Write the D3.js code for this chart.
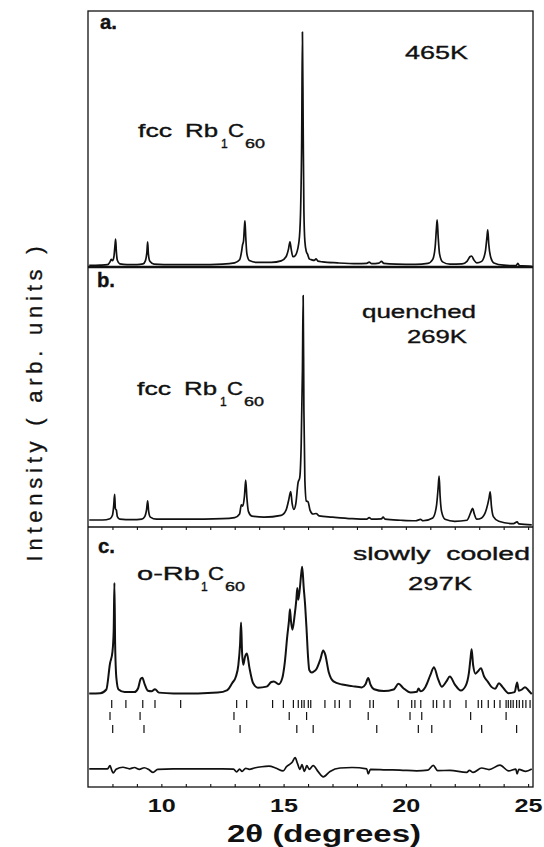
<!DOCTYPE html>
<html>
<head>
<meta charset="utf-8">
<script src="https://cdn.jsdelivr.net/npm/d3@7"></script>
<style>
  body { margin: 0; background: #fff; }
  text { font-family: "Liberation Sans", Arial, sans-serif; fill: #111; white-space: pre; }
</style>
</head>
<body>
<script>
// 2theta range and tick labels
var xDomain = [7.0, 25.2];
var tickLabels = [10, 15, 20, 25];
var minorTicks = d3.range(8, 26);

// panel a: fcc Rb1C60 at 465K  [2theta, intensity]
var traceA = [[7.05,0.6],[7.5,0.7],[7.8,0.9],[7.9,2.0],[7.95,3.0],[8.0,2.5],[8.06,4],[8.1,8],[8.13,10.9],[8.16,6],[8.2,2.6],[8.3,1.2],[8.6,0.9],[9.0,0.9],[9.25,1.2],[9.35,2.5],[9.41,6],[9.44,9.8],[9.47,5],[9.53,2.2],[9.7,1.1],[10.5,0.9],[11.5,0.9],[12.5,1.1],[13.0,1.6],[13.2,2.8],[13.28,6],[13.32,8.6],[13.36,10],[13.4,16],[13.42,18],[13.45,12],[13.5,5],[13.6,2.5],[13.9,1.8],[14.5,1.8],[14.9,2.4],[15.1,4],[15.2,7],[15.26,9.8],[15.31,7],[15.38,4],[15.45,4.2],[15.55,6],[15.65,12],[15.7,24],[15.74,50],[15.77,91.8],[15.8,55],[15.83,22],[15.87,10],[15.93,6],[15.98,5],[16.05,3.2],[16.15,2.8],[16.25,2.6],[16.33,3.2],[16.4,2.3],[16.6,2.0],[17.2,1.6],[18.0,1.3],[18.4,1.4],[18.5,1.9],[18.6,1.3],[18.9,1.5],[19.0,2.2],[19.1,1.4],[19.6,1.1],[20.4,1.0],[20.9,1.4],[21.1,3],[21.2,8],[21.25,15],[21.28,18.4],[21.32,12],[21.38,5],[21.5,2],[21.8,1.1],[22.3,1.2],[22.5,2.2],[22.62,4],[22.69,4.3],[22.78,2.8],[22.9,1.6],[23.1,2.2],[23.25,6],[23.32,12],[23.35,14.5],[23.39,9],[23.48,3.5],[23.6,1.6],[24.0,0.7],[24.5,0.5],[24.58,1.4],[24.65,0.5],[25.15,0.3]];

// panel b: quenched, 269K
var traceB = [[7.05,2.7],[7.6,2.7],[7.9,3.2],[8.0,4.5],[8.05,8],[8.09,12.6],[8.12,7],[8.16,6.5],[8.2,4],[8.3,3],[8.8,2.8],[9.2,3],[9.32,4],[9.4,7],[9.44,10.1],[9.48,6],[9.55,3.8],[9.8,3],[11,3],[12.5,3.2],[13.0,3.6],[13.2,5],[13.27,8.5],[13.33,8],[13.4,12],[13.45,18],[13.5,11],[13.56,6],[13.7,4.2],[14.2,3.8],[14.9,4.5],[15.1,6.5],[15.2,10],[15.29,13.6],[15.35,9],[15.42,6.8],[15.5,9],[15.59,17],[15.66,19],[15.72,32],[15.77,60],[15.8,89],[15.83,45],[15.87,18],[15.93,10],[16.0,9.7],[16.08,6.5],[16.2,5],[16.33,5.2],[16.45,4.3],[17,3.8],[17.8,3.2],[18.4,3],[18.5,3.6],[18.6,3],[19.0,3.1],[19.07,3.8],[19.15,3],[19.8,2.6],[20.4,2.4],[20.6,2.9],[20.7,2.4],[21.1,3.5],[21.25,8],[21.32,15],[21.36,19.6],[21.4,12],[21.46,6],[21.6,3],[22.0,2.2],[22.5,2.6],[22.65,5.5],[22.73,7.2],[22.8,5],[22.9,3],[23.1,3.5],[23.3,7],[23.4,11],[23.45,13.5],[23.5,8],[23.58,4],[23.8,2.2],[24.4,1.3],[24.55,2],[24.62,1.2],[25.15,0.8]];

// panel c: slowly cooled, 297K (observed + fit)
var traceC = [[7.05,36.0],[7.5,36.1],[7.75,37.5],[7.9,47.5],[8.0,52],[8.05,60],[8.08,78.5],[8.11,55],[8.16,42],[8.25,37.5],[8.5,36.5],[8.9,36.5],[9.05,38],[9.15,41.5],[9.22,42],[9.32,39.5],[9.45,37],[9.6,36.8],[9.74,37.6],[9.9,36.3],[10.5,36],[11.5,36],[12.3,36.3],[12.7,37.3],[12.9,40],[13.05,42.5],[13.15,47],[13.22,55],[13.26,63.3],[13.3,52],[13.35,47],[13.42,50],[13.5,51.3],[13.6,46],[13.75,40],[13.95,38.2],[14.3,38.6],[14.5,40.4],[14.6,40.6],[14.8,39.5],[14.95,42],[15.05,48],[15.15,58],[15.22,64],[15.26,68.4],[15.3,64],[15.36,60.5],[15.45,66],[15.52,72],[15.56,76.5],[15.6,72],[15.66,76],[15.72,82],[15.76,84.7],[15.82,77],[15.88,70],[15.94,60.5],[16.0,50],[16.05,45],[16.15,44],[16.25,44.5],[16.35,45.5],[16.5,49],[16.62,52.5],[16.7,51],[16.85,44],[17.04,40.6],[17.4,39.4],[17.8,38.8],[18.2,38.3],[18.35,39.5],[18.46,41.9],[18.55,39.5],[18.7,37.6],[19.1,36.9],[19.5,37.5],[19.7,39.7],[19.9,38],[20.2,36.3],[20.45,36.6],[20.52,37.9],[20.6,36.8],[20.8,38.5],[21.0,43],[21.15,46.1],[21.3,42],[21.47,38.6],[21.65,40.5],[21.8,42.5],[22.0,39.5],[22.25,37.1],[22.45,39],[22.58,44],[22.65,50],[22.69,53],[22.75,47],[22.85,43.6],[22.95,44.5],[23.07,45.7],[23.2,42.5],[23.35,40.5],[23.5,38.5],[23.65,37.8],[23.81,39.9],[23.95,38.5],[24.2,36.1],[24.45,36.5],[24.55,40.2],[24.62,37],[24.75,37.5],[24.87,38.4],[25.0,37.3],[25.15,35.7]];

// panel c: difference curve
var diffC = [[7.05,7.0],[7.8,7.0],[7.9,8.2],[7.97,6.5],[8.03,5.4],[8.15,6.8],[8.43,7.6],[8.7,7.0],[8.9,7.5],[9.1,6.8],[9.3,7.4],[9.5,6.6],[9.66,5.6],[9.85,6.8],[10.5,7.0],[11.5,7.0],[12.5,7.0],[12.95,6.9],[13.08,5.8],[13.2,6.9],[13.3,6.0],[13.45,7.2],[13.6,6.8],[13.8,7.3],[14.1,7.8],[14.4,8.0],[14.7,7.2],[14.98,6.2],[15.12,7.8],[15.26,8.8],[15.35,9.5],[15.47,11.3],[15.57,9.0],[15.67,6.8],[15.75,8.6],[15.85,6.0],[15.95,8.2],[16.05,6.8],[16.21,8.2],[16.42,5.8],[16.62,3.9],[16.9,6.0],[17.31,7.3],[17.8,7.5],[18.4,7.0],[18.46,5.0],[18.55,6.8],[19.2,6.6],[19.76,6.5],[20.44,6.2],[20.9,6.5],[21.12,8.3],[21.3,6.3],[21.8,6.4],[22.49,5.6],[22.6,6.4],[22.75,5.6],[23.1,7.3],[23.4,6.7],[23.85,8.4],[24.2,6.2],[24.5,6.9],[24.55,5.0],[24.62,6.8],[24.9,6.0],[25.15,6.9]];

// reflection positions (three phases)
var reflections1 = [7.97,8.55,9.24,9.74,10.79,13.08,13.49,14.55,14.99,15.40,15.60,15.74,15.84,16.01,16.11,16.69,17.10,17.28,17.72,18.53,18.67,19.69,20.24,20.37,20.61,21.12,21.26,21.56,21.81,22.46,22.96,23.10,23.37,23.62,23.85,24.10,24.19,24.29,24.39,24.53,24.64,24.78,24.91,25.08];
var reflections2 = [7.90,9.13,12.97,15.23,15.94,18.46,20.17,20.65,22.65,24.10];
var reflections3 = [8.01,9.29,13.22,15.54,16.21,18.81,20.51,21.06,23.10,24.53];

var svgWidth = 544, svgHeight = 847;
var left = 88, right = 533;
var panels = [{top: 11, bottom: 267}, {top: 267, bottom: 527}, {top: 527, bottom: 787}];

var svg = d3.select("body").append("svg")
  .attr("width", svgWidth)
  .attr("height", svgHeight);

svg.append("rect").attr("width", svgWidth).attr("height", svgHeight).attr("fill", "#fff");

var x = d3.scaleLinear().domain(xDomain).range([left, right]);
var yScales = panels.map(function (p) {
  return d3.scaleLinear().domain([0, 100]).range([p.bottom, p.top]);
});

function drawTrace(data, y, width) {
  var line = d3.line()
    .x(d => x(d[0]))
    .y(d => y(d[1]))
    .curve(d3.curveMonotoneX);
  svg.append("path")
    .datum(data)
    .attr("d", line)
    .attr("fill", "none")
    .attr("stroke", "#111")
    .attr("stroke-width", width)
    .attr("stroke-linejoin", "round");
}

drawTrace(traceA, yScales[0], 1.7);
drawTrace(traceB, yScales[1], 1.7);
drawTrace(traceC, yScales[2], 2.0);
drawTrace(diffC, yScales[2], 1.7);

// reflection tick rows in panel c
[[reflections1, 700], [reflections2, 712], [reflections3, 725]].forEach(function (row) {
  svg.append("g").selectAll("line")
    .data(row[0])
    .enter()
    .append("line")
    .attr("x1", d => x(d)).attr("x2", d => x(d))
    .attr("y1", row[1]).attr("y2", row[1] + 8)
    .attr("stroke", "#111")
    .attr("stroke-width", 1.2);
});

// frames
svg.append("rect")
  .attr("x", left).attr("y", panels[0].top)
  .attr("width", right - left).attr("height", panels[2].bottom - panels[0].top)
  .attr("fill", "none").attr("stroke", "#111").attr("stroke-width", 1.3);
svg.append("line")
  .attr("x1", left).attr("x2", right).attr("y1", panels[0].bottom).attr("y2", panels[0].bottom)
  .attr("stroke", "#111").attr("stroke-width", 2.4);
svg.append("line")
  .attr("x1", left).attr("x2", right).attr("y1", panels[1].bottom).attr("y2", panels[1].bottom)
  .attr("stroke", "#111").attr("stroke-width", 1.4);

// minor ticks
var midAxis = d3.axisBottom(x).tickValues(minorTicks).tickSize(3).tickFormat("");
svg.append("g").attr("transform", `translate(0,${panels[1].bottom})`).call(midAxis)
  .call(g => g.select(".domain").remove());
var botTicks = d3.axisBottom(x).tickValues(minorTicks).tickSize(-3).tickFormat("");
svg.append("g").attr("transform", `translate(0,${panels[2].bottom})`).call(botTicks)
  .call(g => g.select(".domain").remove());
svg.selectAll(".tick line").attr("stroke", "#111").attr("stroke-width", 1.1);

// tick labels
var bottomAxis = d3.axisBottom(x).tickValues(tickLabels).tickSize(0);
var axisG = svg.append("g").attr("transform", `translate(0,${panels[2].bottom})`).call(bottomAxis);
axisG.select(".domain").remove();
axisG.selectAll("text")
  .attr("y", 25).attr("dy", 0)
  .style("font-family", "'Liberation Sans', Arial, sans-serif")
  .style("font-size", "19px")
  .style("font-weight", "bold")
  .attr("textLength", 28)
  .attr("lengthAdjust", "spacingAndGlyphs")
  .attr("fill", "#111");

// axis titles
svg.append("text")
  .attr("x", 324).attr("y", 842)
  .attr("text-anchor", "middle")
  .style("font-size", "23px").style("font-weight", "bold")
  .attr("textLength", 194).attr("lengthAdjust", "spacingAndGlyphs")
  .text("2θ (degrees)");

svg.append("text")
  .attr("transform", "translate(41.5,404) rotate(-90)")
  .attr("text-anchor", "middle")
  .style("font-size", "22px")
  .attr("stroke", "#111").attr("stroke-width", 0.3)
  .attr("textLength", 315).attr("lengthAdjust", "spacing")
  .text("Intensity ( arb. units )");

// annotations
function label(str, px, py, size, w, weight) {
  var t = svg.append("text")
    .attr("x", px).attr("y", py)
    .style("font-size", size + "px")
    .style("font-weight", weight || "normal")
    .attr("stroke", "#111").attr("stroke-width", 0.35)
    .text(str);
  if (w) t.attr("textLength", w).attr("lengthAdjust", "spacingAndGlyphs");
  return t;
}

label("a.", 100, 29, 20, 17, "bold");
label("b.", 97, 287, 20, 18, "bold");
label("c.", 98, 553, 20, 17, "bold");

label("465K", 405, 59, 18, 63);
label("quenched", 362, 318, 18, 114);
label("269K", 407, 343, 18, 60);
label("slowly  cooled", 353, 560, 18, 177);
label("297K", 408, 590, 18, 64);

function formula(prefix, px, py, w1, cx) {
  label(prefix, px, py, 18, w1);
  label("1", cx - 7, py + 11, 12);
  label("C", cx, py, 18, 16);
  label("60", cx + 17, py + 11, 12, 20);
}
label("fcc", 138, 137, 18, 34);
formula("Rb", 185, 137, 33, 228);
label("fcc", 137, 395, 18, 34);
formula("Rb", 184, 395, 33, 227);
formula("o-Rb", 137, 580, 63, 208);
</script>
</body>
</html>
